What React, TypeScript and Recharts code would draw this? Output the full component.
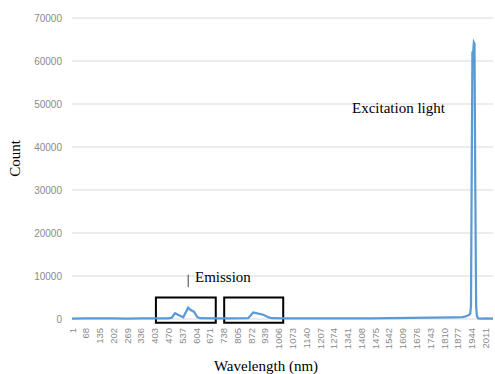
import { LineChart, Line, XAxis, YAxis, CartesianGrid, ReferenceArea, ReferenceLine } from 'recharts'

// detector pixel index (category on the x axis) and the count read at that pixel
const pixel = [
  1, 60, 130, 200, 270, 340, 410, 470, 486, 502, 526, 542, 566, 578, 594, 610, 623,
  700, 780, 858, 882, 902, 931, 955, 972, 1050, 1150, 1250, 1350, 1450, 1550, 1650,
  1750, 1850, 1900, 1915, 1930, 1937, 1941, 1944, 1948, 1952, 1955, 1958, 1962, 1966,
  1970, 1976, 1990, 2020, 2048,
]
const count = [
  100, 150, 120, 160, 110, 150, 130, 160, 300, 1330, 770, 400, 2630, 2100, 1700, 460, 180,
  150, 170, 200, 1530, 1300, 1000, 420, 180, 150, 130, 170, 140, 160, 200, 250,
  300, 380, 450, 600, 900, 1200, 3000, 30000, 62000, 62300, 64300, 64000, 30000, 3000,
  600, 150, 100, 120, 100,
]

const xTicks = [
  1, 68, 135, 202, 269, 336, 403, 470, 537, 604, 671, 738, 805, 872, 939, 1006, 1073,
  1140, 1207, 1274, 1341, 1408, 1475, 1542, 1609, 1676, 1743, 1810, 1877, 1944, 2011,
]
const yTicks = [0, 10000, 20000, 30000, 40000, 50000, 60000, 70000]

// boxes drawn round the emission bands
const boxes = [
  { x1: 409, x2: 700 },
  { x1: 741, x2: 1028 },
]

const data = pixel.map((p, i) => ({ pixel: p, count: count[i] }))

const sans = '"Liberation Sans", Arial, sans-serif'
const serif = '"Liberation Serif", "Times New Roman", serif'

function XTick({ x, y, payload }: any) {
  return (
    <text
      x={x}
      y={y}
      transform={`rotate(-90 ${x} ${y})`}
      textAnchor="end"
      dominantBaseline="central"
      fontSize={9.5}
      fontFamily={sans}
      fill="#8a8a8a"
    >
      {payload.value}
    </text>
  )
}

export default function App() {
  return (
    <div style={{ position: 'absolute', left: 0, top: 0, width: 495, height: 374, background: '#fff' }}>
      <LineChart width={495} height={374} data={data} margin={{ top: 18, right: 2, left: 0, bottom: 0 }}>
        <CartesianGrid stroke="#d9d9d9" vertical={false} />
        <XAxis
          dataKey="pixel"
          type="number"
          domain={[1, 2048]}
          ticks={xTicks}
          interval={0}
          tick={<XTick />}
          tickSize={0}
          tickMargin={9}
          axisLine={false}
          tickLine={false}
          height={55}
        />
        <YAxis
          domain={[0, 70000]}
          ticks={yTicks}
          tick={{ fill: '#8a8a8a', fontSize: 10, fontFamily: sans }}
          tickSize={0}
          tickMargin={10}
          axisLine={false}
          tickLine={false}
          width={72}
        />
        {boxes.map((b, i) => (
          <ReferenceArea
            key={i}
            x1={b.x1}
            x2={b.x2}
            y1={-860}
            y2={5000}
            fill="none"
            fillOpacity={0}
            stroke="#000"
            strokeWidth={2}
            ifOverflow="visible"
          />
        ))}
        <ReferenceLine
          segment={[{ x: 566, y: 10300 }, { x: 566, y: 7400 }]}
          stroke="#404040"
          strokeWidth={1}
          ifOverflow="visible"
        />
        <Line
          type="linear"
          dataKey="count"
          stroke="#5b9bd5"
          strokeWidth={2.25}
          dot={false}
          isAnimationActive={false}
        />
      </LineChart>
      <svg
        width={495}
        height={374}
        style={{ position: 'absolute', left: 0, top: 0, pointerEvents: 'none' }}
      >
        <text x={20} y={158.5} transform="rotate(-90 20 158.5)" textAnchor="middle" fontSize={15} fontFamily={serif} fill="#000">
          Count
        </text>
        <text x={266} y={371} textAnchor="middle" fontSize={15} fontFamily={serif} fill="#000">
          Wavelength (nm)
        </text>
        <text x={352} y={113} fontSize={15} fontFamily={serif} fill="#000">
          Excitation light
        </text>
        <text x={195} y={282} fontSize={15} fontFamily={serif} fill="#000">
          Emission
        </text>
      </svg>
    </div>
  )
}
